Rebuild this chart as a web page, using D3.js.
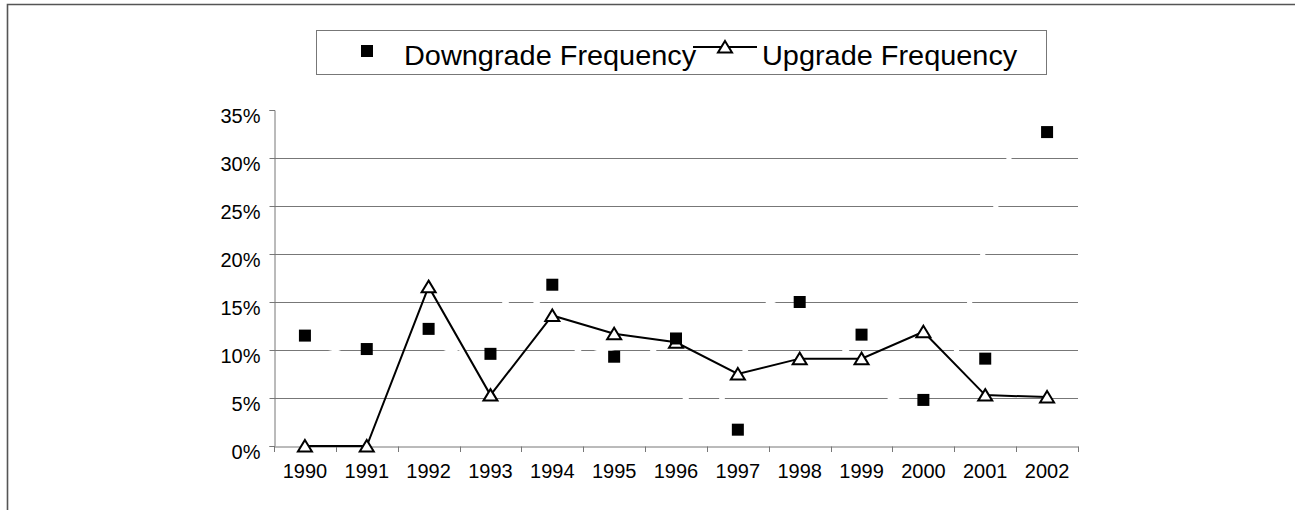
<!DOCTYPE html>
<html>
<head>
<meta charset="utf-8">
<script src="https://cdn.jsdelivr.net/npm/d3@7"></script>
<style>
  html, body { margin: 0; padding: 0; background: #fff; }
  svg { display: block; font-family: "Liberation Sans", Arial, sans-serif; }
</style>
</head>
<body>
<svg id="chart" width="1295" height="510"></svg>
<script>
// data (percent)
var years = [1990, 1991, 1992, 1993, 1994, 1995, 1996, 1997, 1998, 1999, 2000, 2001, 2002];
var downgrade = [11.5, 10.1, 12.2, 9.6, 16.8, 9.3, 11.2, 1.7, 15.0, 11.6, 4.8, 9.1, 32.7];
var upgrade = [0, 0, 16.6, 5.3, 13.6, 11.7, 10.8, 7.5, 9.1, 9.1, 11.9, 5.3, 5.1];
var yTicks = [0, 5, 10, 15, 20, 25, 30, 35];
var seriesNames = ["Downgrade Frequency", "Upgrade Frequency"];

var svg = d3.select("#chart");
var sx = 1.07; // legend text is a little stretched sideways

// outer frame (top and left only)
svg.append("path")
    .attr("d", "M7.5,510V4.5H1295")
    .attr("fill", "none")
    .attr("stroke", "#555")
    .attr("stroke-width", 1.6);

// scales
var x = d3.scaleBand().domain(years).range([274, 1078]).padding(0);
var y = d3.scaleLinear().domain([0, 35]).range([446, 110]);
var cx = function(d) { return x(d) + x.bandwidth() / 2; };

// gridlines
svg.append("g").selectAll("line")
    .data(yTicks.filter(function(t) { return t > 0 && t < 35; }))
    .join("line")
    .attr("x1", x.range()[0]).attr("x2", x.range()[1])
    .attr("y1", function(d) { return Math.round(y(d)) + 0.5; })
    .attr("y2", function(d) { return Math.round(y(d)) + 0.5; })
    .attr("stroke", "#777")
    .attr("stroke-width", 1);

// downgrade series line is white in the original, it only shows where it cuts the grid
var pts = years.map(function(yr, i) { return [x(yr), y(downgrade[i])]; });
svg.append("path")
    .attr("d", d3.line()(pts))
    .attr("fill", "none")
    .attr("stroke", "#fff")
    .attr("stroke-width", 5);

// axes
var yAxis = svg.append("g")
    .attr("transform", "translate(274.5,0)")
    .call(d3.axisLeft(y).tickValues(yTicks).tickSize(5).tickFormat(function(d) { return d + "%"; }));
var xAxis = svg.append("g")
    .attr("transform", "translate(0,446.5)")
    .call(d3.axisBottom(x).tickSize(0).tickPadding(17));

[yAxis, xAxis].forEach(function(g) {
    g.select(".domain").attr("stroke", "#777");
    g.selectAll(".tick line").attr("stroke", "#777");
    g.selectAll("text")
        .attr("fill", "#000")
        .style("font-size", "20px")
        .style("font-family", "Liberation Sans, Arial, sans-serif");
});
yAxis.selectAll("text").attr("x", -14).attr("dy", "0.6em");

// x tick marks sit on the category boundaries
svg.append("g").selectAll("line")
    .data(years.map(function(d) { return x(d); }).concat([x.range()[1]]))
    .join("line")
    .attr("x1", function(d) { return Math.round(d) + 0.5; })
    .attr("x2", function(d) { return Math.round(d) + 0.5; })
    .attr("y1", 446.5).attr("y2", 452)
    .attr("stroke", "#777");

// upgrade line + triangles
var line = d3.line()
    .x(function(d, i) { return cx(years[i]); })
    .y(function(d) { return y(d); });
svg.append("path")
    .datum(upgrade)
    .attr("d", line)
    .attr("fill", "none")
    .attr("stroke", "#000")
    .attr("stroke-width", 2);

var tri = "M0,-6L7,5.5L-7,5.5Z";
svg.append("g").selectAll("path")
    .data(upgrade)
    .join("path")
    .attr("d", tri)
    .attr("transform", function(d, i) { return "translate(" + cx(years[i]) + "," + y(d) + ")"; })
    .attr("fill", "#fff")
    .attr("stroke", "#000")
    .attr("stroke-width", 2);

// downgrade squares
svg.append("g").selectAll("rect")
    .data(downgrade)
    .join("rect")
    .attr("x", function(d, i) { return cx(years[i]) - 6; })
    .attr("y", function(d) { return y(d) - 6; })
    .attr("width", 12).attr("height", 12)
    .attr("fill", "#000");

// legend
var lg = svg.append("g");
lg.append("rect")
    .attr("x", 316.5).attr("y", 30.5)
    .attr("width", 730).attr("height", 44)
    .attr("fill", "#fff")
    .attr("stroke", "#777");
lg.append("rect")
    .attr("x", 361).attr("y", 45)
    .attr("width", 12).attr("height", 12)
    .attr("fill", "#000");
lg.append("text")
    .attr("transform", "translate(404,65) scale(" + sx + ",1)")
    .style("font-size", "27px")
    .text(seriesNames[0]);
lg.append("line")
    .attr("x1", 693).attr("x2", 757)
    .attr("y1", 47).attr("y2", 47)
    .attr("stroke", "#000").attr("stroke-width", 2);
lg.append("path")
    .attr("d", tri)
    .attr("transform", "translate(725,47)")
    .attr("fill", "#fff")
    .attr("stroke", "#000")
    .attr("stroke-width", 2);
lg.append("text")
    .attr("transform", "translate(762,65) scale(" + sx + ",1)")
    .style("font-size", "27px")
    .text(seriesNames[1]);
</script>
</body>
</html>
